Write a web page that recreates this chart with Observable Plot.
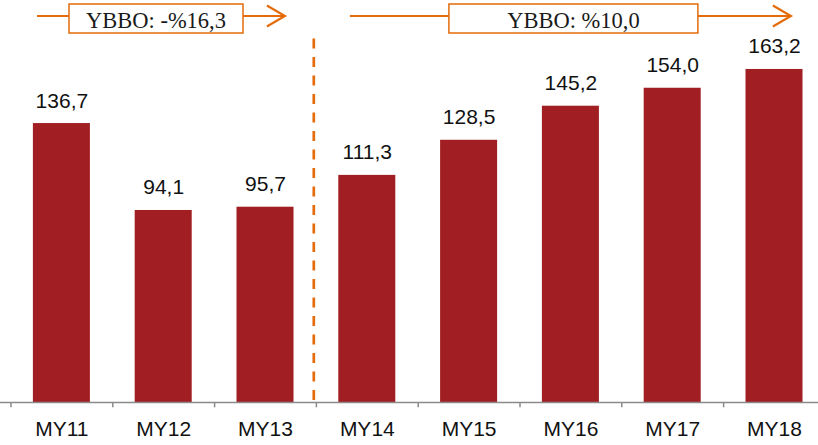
<!DOCTYPE html>
<html>
<head>
<meta charset="utf-8">
<script src="https://cdn.jsdelivr.net/npm/d3@7"></script>
<script src="https://cdn.jsdelivr.net/npm/@observablehq/plot@0.6"></script>
<style>
  html, body { margin: 0; padding: 0; background: #fff; }
</style>
</head>
<body>
<div id="chart"></div>
<script>
const categories = ["MY11", "MY12", "MY13", "MY14", "MY15", "MY16", "MY17", "MY18"];
const values = [136.7, 94.1, 95.7, 111.3, 128.5, 145.2, 154.0, 163.2];

const dividerBefore = "MY14";
const annotLabels = ["YBBO: -%16,3", "YBBO: %10,0"];
const annotFrom = ["MY11", "MY14"];
const annotTo = ["MY13", "MY18"];

const data = categories.map((c, i) => ({cat: c, value: values[i]}));
const annots = annotLabels.map((l, i) => ({label: l, from: annotFrom[i], to: annotTo[i]}));

const trLocale = d3.formatLocale({decimal: ",", thousands: ".", grouping: [3], currency: ["", ""]});
const fmt = trLocale.format(".1f");

const ORANGE = "#E46C0A";
const BAR = "#A11F22";
const PAD_IN = 0.44, PAD_OUT = 0.22;

// styling offsets (pixels) for each annotation
const annotStyle = [
  {startInset: 26.5, endInset: 31, boxL: 32, boxR: 206},
  {startInset: 34, endInset: 34, boxL: 99, boxR: 348}
];

function annotationMark(index, scales) {
  const x = scales.x;
  const step = x(categories[1]) - x(categories[0]);
  const leftEdge = c => x(c) - step * PAD_OUT;
  const g = d3.create("svg:g");
  annots.forEach((a, i) => {
    const s = annotStyle[i];
    const x0 = leftEdge(a.from) + s.startInset;
    const x1 = leftEdge(a.to) + step - s.endInset;
    const yMid = 16;
    g.append("line")
      .attr("x1", x0).attr("x2", x1).attr("y1", yMid).attr("y2", yMid)
      .attr("stroke", ORANGE).attr("stroke-width", 2);
    g.append("path")
      .attr("d", `M${x1 - 18},${yMid - 10.5}L${x1},${yMid}L${x1 - 18},${yMid + 10.5}`)
      .attr("fill", "none").attr("stroke", ORANGE).attr("stroke-width", 2.2);
    const bx0 = x0 + s.boxL, bx1 = x0 + s.boxR;
    g.append("rect")
      .attr("x", bx0).attr("y", 4).attr("width", bx1 - bx0).attr("height", 29)
      .attr("fill", "#fff").attr("stroke", ORANGE).attr("stroke-width", 1.5);
    g.append("text")
      .attr("x", (bx0 + bx1) / 2).attr("y", 27.5)
      .attr("text-anchor", "middle")
      .attr("font-family", "Liberation Serif, serif")
      .attr("font-size", 22.5)
      .attr("fill", "#1a1a1a")
      .text(a.label);
  });
  return g.node();
}

const chart = Plot.plot({
  width: 818,
  height: 445,
  marginTop: 0,
  marginBottom: 43,
  marginLeft: 0,
  marginRight: 0,
  style: {fontFamily: "Liberation Sans, Arial, sans-serif", fontSize: "21px", background: "#fff", color: "#111"},
  x: {domain: categories, range: [10.5, 824.9], round: false, paddingInner: PAD_IN, paddingOuter: PAD_OUT, tickSize: 0, tickPadding: 19, label: null},
  y: {domain: [0, 197], axis: null},
  marks: [
    Plot.barY(data, {x: "cat", y: "value", fill: BAR}),
    Plot.text(data, {x: "cat", y: "value", text: d => fmt(d.value), lineAnchor: "bottom", dy: -16, fill: "#111", fontSize: 21}),
    Plot.ruleY([0], {stroke: "#8a8a8a", strokeWidth: 1.5}),
    Plot.ruleX(categories, {x: d => d, y1: -2.6, y2: 0, dx: -50.9, stroke: "#8a8a8a", strokeWidth: 1.5}),
    Plot.ruleX([dividerBefore], {x: d => d, y1: 1, y2: 179.3, dx: -53.5, stroke: ORANGE, strokeWidth: 2.7, strokeDasharray: "10,8.5"}),
    annotationMark
  ]
});

document.getElementById("chart").appendChild(chart);
</script>
</body>
</html>
